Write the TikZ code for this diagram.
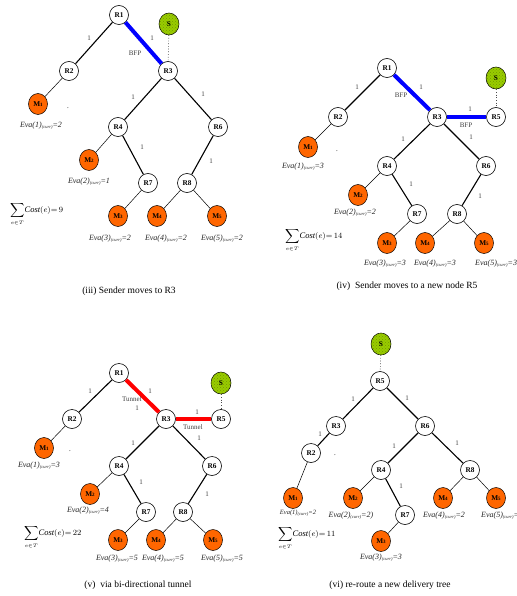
\documentclass[tikz,border=0pt]{standalone}
\usepackage{fontspec}
\setmainfont{Liberation Serif}
\usetikzlibrary{shapes.geometric,patterns}
\definecolor{morange}{RGB}{255,102,0}
\definecolor{sgreen}{RGB}{153,204,0}
\newcommand{\evalab}[2]{Eva(#1)\raisebox{-0.8pt}{\fontsize{4.5}{5}\selectfont(curr)}=#2}
\newcommand{\mlab}[1]{M\raisebox{-0.3pt}{\fontsize{5}{5}\selectfont #1}}
\tikzset{
  rnode/.style={circle,draw,fill=white,minimum size=19pt,inner sep=0pt,line width=0.6pt,font=\fontsize{7.3}{8}\selectfont\bfseries},
  mnode/.style={ellipse,draw,fill=morange,minimum width=19pt,minimum height=21pt,inner sep=0pt,line width=0.5pt,font=\fontsize{7.3}{8}\selectfont\bfseries},
  snode/.style={ellipse,draw,fill=sgreen,minimum width=20pt,minimum height=22pt,inner sep=0pt,line width=0.5pt,font=\fontsize{7.3}{8}\selectfont\bfseries,
    postaction={pattern=crosshatch dots,pattern color=sgreen!75!black}},
  tedge/.style={line width=1.1pt},
  medge/.style={line width=0.5pt},
  dedge/.style={dotted,line width=0.7pt,black!70},
  bfp/.style={blue,line width=4pt},
  tun/.style={red,line width=4pt},
  lab/.style={font=\fontsize{7}{8}\selectfont,text=black!75,inner sep=0pt},
  eva/.style={font=\fontsize{8}{9}\selectfont\itshape,text=black!85,inner sep=0pt},
  captext/.style={font=\fontsize{9.5}{11}\selectfont,inner sep=0pt},
  sumlab/.style={font=\fontsize{8.5}{9}\selectfont,inner sep=0pt,anchor=west},
  dotlab/.style={font=\fontsize{7}{8}\selectfont,inner sep=0pt}
}
\newcommand{\costsum}[1]{$\displaystyle\sum_{\scriptscriptstyle e\in T}\!\mathit{Cost}(e){=}\,#1$}
\begin{document}
\begin{tikzpicture}[x=1pt,y=-1pt]
\useasboundingbox (0,0) rectangle (516,596);
\clip (0,0) rectangle (516,596);
\fill[white] (0,0) rectangle (516,596);
% ===== Panel (iii) =====
\node[rnode] (aR1) at (119,15) {R1};
\node[snode] (aS) at (169,24) {S};
\node[rnode] (aR2) at (69,71) {R2};
\node[rnode] (aR3) at (168,71) {R3};
\node[mnode] (aM1) at (38,104) {\mlab{1}};
\node[rnode] (aR4) at (118,127) {R4};
\node[rnode] (aR6) at (218,127) {R6};
\node[mnode] (aM2) at (89,160) {\mlab{2}};
\node[rnode] (aR7) at (148,183) {R7};
\node[rnode] (aR8) at (187,183) {R8};
\node[mnode] (aM3) at (118,216) {\mlab{3}};
\node[mnode] (aM4) at (157,216) {\mlab{4}};
\node[mnode] (aM5) at (217,216) {\mlab{5}};
\draw[tedge] (aR1) -- (aR2);
\draw[bfp] (aR1) -- (aR3);
\draw[dedge] (aS) -- (aR3);
\draw[medge] (aR2) -- (aM1);
\draw[tedge] (aR3) -- (aR4);
\draw[tedge] (aR3) -- (aR6);
\draw[medge] (aR4) -- (aM2);
\draw[tedge] (aR4) -- (aR7);
\draw[tedge] (aR6) -- (aR8);
\draw[medge] (aR7) -- (aM3);
\draw[medge] (aR8) -- (aM4);
\draw[medge] (aR8) -- (aM5);
\node[lab] (al1) at (89,38) {1};
\node[lab] (al2) at (152,38) {1};
\node[lab] (al3) at (135,53) {BFP};
\node[lab] (al4) at (133,97) {1};
\node[lab] (al5) at (203,94) {1};
\node[lab] (al6) at (142,147) {1};
\node[lab] (al7) at (211,161) {1};
\node[dotlab] (adot) at (68,108) {.};
\node[eva] (ae1) at (41,126) {\evalab{1}{2}};
\node[eva] (ae2) at (89,182) {\evalab{2}{1}};
\node[eva] (ae3) at (110,239) {\evalab{3}{2}};
\node[eva] (ae4) at (166,239) {\evalab{4}{2}};
\node[eva] (ae5) at (222,239) {\evalab{5}{2}};
\node[sumlab] (asum) at (10,214) {\costsum{9}};
\node[captext] (acap) at (129,291) {(iii) Sender moves to R3};
% ===== Panel (iv) =====
\node[rnode] (bR1) at (387,68) {R1};
\node[snode] (bS) at (496,78) {S};
\node[rnode] (bR2) at (338,117) {R2};
\node[rnode] (bR3) at (437,117) {R3};
\node[rnode] (bR5) at (496,117) {R5};
\node[mnode] (bM1) at (308,147) {\mlab{1}};
\node[rnode] (bR4) at (387,166) {R4};
\node[rnode] (bR6) at (486,166) {R6};
\node[mnode] (bM2) at (358,195) {\mlab{2}};
\node[rnode] (bR7) at (417,214) {R7};
\node[rnode] (bR8) at (457,214) {R8};
\node[mnode] (bM3) at (387,243) {\mlab{3}};
\node[mnode] (bM4) at (425,243) {\mlab{4}};
\node[mnode] (bM5) at (484,243) {\mlab{5}};
\draw[tedge] (bR1) -- (bR2);
\draw[bfp] (bR1) -- (bR3);
\draw[bfp] (bR3) -- (bR5);
\draw[dedge] (bS) -- (bR5);
\draw[medge] (bR2) -- (bM1);
\draw[tedge] (bR3) -- (bR4);
\draw[tedge] (bR3) -- (bR6);
\draw[medge] (bR4) -- (bM2);
\draw[tedge] (bR4) -- (bR7);
\draw[tedge] (bR6) -- (bR8);
\draw[medge] (bR7) -- (bM3);
\draw[medge] (bR8) -- (bM4);
\draw[medge] (bR8) -- (bM5);
\node[lab] (bl1) at (357,87) {1};
\node[lab] (bl2) at (421,87) {1};
\node[lab] (bl3) at (401,95) {BFP};
\node[lab] (bl4) at (470,109) {1};
\node[lab] (bl5) at (466,125) {BFP};
\node[lab] (bl6) at (403,139) {1};
\node[lab] (bl7) at (471,137) {1};
\node[lab] (bl8) at (411,184) {1};
\node[lab] (bl9) at (480,196) {1};
\node[dotlab] (bdot) at (337,151) {.};
\node[eva] (be1) at (303,167) {\evalab{1}{3}};
\node[eva] (be2) at (355,213) {\evalab{2}{2}};
\node[eva] (be3) at (385,264) {\evalab{3}{3}};
\node[eva] (be4) at (435,264) {\evalab{4}{3}};
\node[eva,anchor=west] (be5) at (475,264) {\evalab{5}{3}};
\node[sumlab] (bsum) at (285,240) {\costsum{14}};
\node[captext] (bcap) at (407,286) {(iv)\ \ Sender moves to a new node R5};
% ===== Panel (v) =====
\node[rnode] (cR1) at (119,373) {R1};
\node[snode] (cS) at (221,383) {S};
\node[rnode] (cR2) at (72,419) {R2};
\node[rnode] (cR3) at (166,419) {R3};
\node[rnode] (cR5) at (221,419) {R5};
\node[mnode] (cM1) at (44,448) {\mlab{1}};
\node[rnode] (cR4) at (119,466) {R4};
\node[rnode] (cR6) at (212,466) {R6};
\node[mnode] (cM2) at (90,494) {\mlab{2}};
\node[rnode] (cR7) at (146,512) {R7};
\node[rnode] (cR8) at (183,512) {R8};
\node[mnode] (cM3) at (118,540) {\mlab{3}};
\node[mnode] (cM4) at (156,540) {\mlab{4}};
\node[mnode] (cM5) at (213,540) {\mlab{5}};
\draw[tedge] (cR1) -- (cR2);
\draw[tun] (cR1) -- (cR3);
\draw[tun] (cR3) -- (cR5);
\draw[dedge] (cS) -- (cR5);
\draw[medge] (cR2) -- (cM1);
\draw[tedge] (cR3) -- (cR4);
\draw[tedge] (cR3) -- (cR6);
\draw[medge] (cR4) -- (cM2);
\draw[tedge] (cR4) -- (cR7);
\draw[tedge] (cR6) -- (cR8);
\draw[medge] (cR7) -- (cM3);
\draw[medge] (cR8) -- (cM4);
\draw[medge] (cR8) -- (cM5);
\node[lab] (cl1) at (90,391) {1};
\node[lab] (cl2) at (150,391) {1};
\node[lab] (cl3) at (132,399) {Tunnel};
\node[lab] (cl4) at (137,408) {1};
\node[lab] (cl5) at (197,412) {1};
\node[lab] (cl6) at (193,427) {Tunnel};
\node[lab] (cl7) at (199,438) {1};
\node[lab] (cl8) at (133,443) {1};
\node[lab] (cl9) at (141,482) {1};
\node[lab] (cl10) at (207,494) {1};
\node[dotlab] (cdot) at (70,451) {.};
\node[eva] (ce1) at (39,466) {\evalab{1}{3}};
\node[eva] (ce2) at (88,511) {\evalab{2}{4}};
\node[eva] (ce3) at (117,559) {\evalab{3}{5}};
\node[eva] (ce4) at (163,559) {\evalab{4}{5}};
\node[eva] (ce5) at (222,559) {\evalab{5}{5}};
\node[sumlab] (csum) at (24,537) {\costsum{22}};
\node[captext] (ccap) at (138,585) {(v)\ \ via bi-directional tunnel};
% ===== Panel (vi) =====
\node[snode] (dS) at (381,344) {S};
\node[rnode] (dR5) at (380,381) {R5};
\node[rnode] (dR3) at (336,426) {R3};
\node[rnode] (dR6) at (425,426) {R6};
\node[rnode] (dR2) at (311,453) {R2};
\node[rnode] (dR4) at (381,470) {R4};
\node[rnode] (dR8) at (470,470) {R8};
\node[mnode] (dM1) at (293,498) {\mlab{1}};
\node[mnode] (dM2) at (353,498) {\mlab{2}};
\node[mnode] (dM4) at (443,498) {\mlab{4}};
\node[mnode] (dM5) at (496,498) {\mlab{5}};
\node[rnode] (dR7) at (405,515) {R7};
\node[mnode] (dM3) at (381,541) {\mlab{3}};
\draw[dedge] (dS) -- (dR5);
\draw[tedge] (dR5) -- (dR3);
\draw[tedge] (dR5) -- (dR6);
\draw[tedge] (dR3) -- (dR2);
\draw[medge] (dR2) -- (dM1);
\draw[tedge] (dR6) -- (dR4);
\draw[tedge] (dR6) -- (dR8);
\draw[medge] (dR4) -- (dM2);
\draw[tedge] (dR4) -- (dR7);
\draw[medge] (dR7) -- (dM3);
\draw[medge] (dR8) -- (dM4);
\draw[medge] (dR8) -- (dM5);
\node[lab] (dl1) at (353,399) {1};
\node[lab] (dl2) at (407,398) {1};
\node[lab] (dl3) at (320,434) {1};
\node[lab] (dl4) at (394,446) {1};
\node[lab] (dl5) at (457,443) {1};
\node[lab] (dl6) at (401,486) {1};
\node[dotlab] (ddot) at (335,455) {.};
\node[eva,font=\fontsize{6.5}{7}\selectfont\itshape] (de1) at (298,513) {\evalab{1}{2}};
\node[eva] (de2) at (351,516) {\evalab{2}{2)}};
\node[eva] (de4) at (444,516) {\evalab{4}{2}};
\node[eva,anchor=west] (de5) at (481,516) {\evalab{5}{2}};
\node[eva] (de3) at (381,558) {\evalab{3}{3}};
\node[sumlab] (dsum) at (278,538) {\costsum{11}};
\node[captext] (dcap) at (390,585) {(vi) re-route a new delivery tree};
\end{tikzpicture}
\end{document}
